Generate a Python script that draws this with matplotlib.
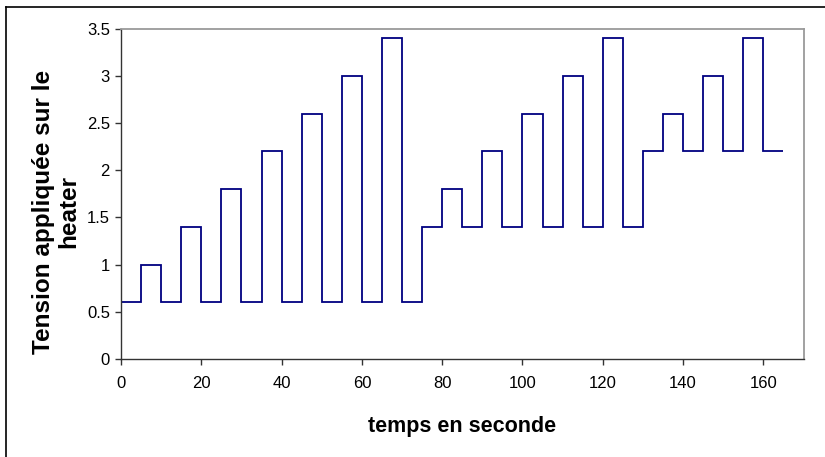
import matplotlib
matplotlib.use("Agg")
import matplotlib.pyplot as plt
from matplotlib.lines import Line2D

# data
time_edges = [0, 5, 10, 15, 20, 25, 30, 35, 40, 45, 50, 55, 60, 65, 70, 75, 80,
              85, 90, 95, 100, 105, 110, 115, 120, 125, 130, 135, 140, 145, 150,
              155, 160, 165]
tension = [0.6, 1.0, 0.6, 1.4, 0.6, 1.8, 0.6, 2.2, 0.6, 2.6, 0.6, 3.0, 0.6, 3.4,
           0.6, 1.4, 1.8, 1.4, 2.2, 1.4, 2.6, 1.4, 3.0, 1.4, 3.4, 1.4, 2.2, 2.6,
           2.2, 3.0, 2.2, 3.4, 2.2]
x_ticks = [0, 20, 40, 60, 80, 100, 120, 140, 160]
y_ticks = [0, 0.5, 1, 1.5, 2, 2.5, 3, 3.5]
y_tick_labels = ["0", "0.5", "1", "1.5", "2", "2.5", "3", "3.5"]

plt.rcParams['font.family'] = ['Liberation Sans', 'DejaVu Sans']

W, H = 825, 457
fig = plt.figure(figsize=(W / 100, H / 100), dpi=100)
ax = fig.add_axes([121 / W, 1 - 359 / H, (803.5 - 121) / W, (359 - 28.6) / H])

ax.stairs(tension, time_edges, baseline=None, color='#000080', linewidth=1.3)

ax.set_xlim(0, 170)
ax.set_ylim(0, 3.5)
ax.set_xticks(x_ticks)
ax.set_xticklabels([str(t) for t in x_ticks])
ax.set_yticks(y_ticks)
ax.set_yticklabels(y_tick_labels)
ax.tick_params(axis='both', direction='out', length=4, width=1, color='#333333',
               labelsize=12, pad=4)
ax.tick_params(axis='x', pad=8)

for s in ['left', 'bottom']:
    ax.spines[s].set_color('#333333')
    ax.spines[s].set_linewidth(1.0)
for s in ['top', 'right']:
    ax.spines[s].set_color('#9a9a9a')
    ax.spines[s].set_linewidth(1.3)

ax.set_xlabel('temps en seconde', fontsize=15.5, fontweight='bold', labelpad=18)
ax.set_ylabel('Tension appliquée sur le\nheater', fontsize=17.5, fontweight='bold',
              linespacing=1.12)
ax.yaxis.set_label_coords((80 - 121) / 682.5, 0.445)

# outer chart-area frame (partially cropped)
fig.add_artist(Line2D([5.5 / W, 1.0], [1 - 7 / H, 1 - 7 / H], color='black', lw=1.2,
                      transform=fig.transFigure))
fig.add_artist(Line2D([5.5 / W, 5.5 / W], [1 - 7 / H, 0.0], color='black', lw=1.2,
                      transform=fig.transFigure))

fig.savefig('out.png', dpi=100)
